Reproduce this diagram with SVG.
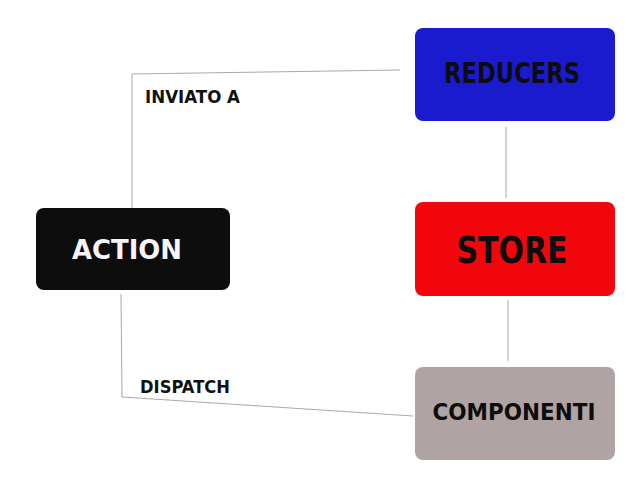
<svg xmlns="http://www.w3.org/2000/svg" width="640" height="480" viewBox="0 0 640 480">
<style>
.node text{font-family:"DejaVu Sans",sans-serif;font-weight:bold;text-anchor:middle;dominant-baseline:central}
.conn{fill:none;stroke:#b0a6a6;stroke-width:1}
.lbl{font-family:"DejaVu Sans",sans-serif;font-weight:bold;font-size:17px;fill:#111}
</style>
<rect width="640" height="480" fill="#fff"/>
<g id="connectors">
<polyline class="conn" points="132,208 132,74 400,70"/>
<line class="conn" x1="506" y1="127" x2="506" y2="198"/>
<line class="conn" x1="508" y1="300" x2="508" y2="361"/>
<polyline class="conn" points="121,294 122,397 413,416"/>
<text class="lbl" x="145" y="103" textLength="95" lengthAdjust="spacingAndGlyphs">INVIATO A</text>
<text class="lbl" x="140" y="393" textLength="90" lengthAdjust="spacingAndGlyphs">DISPATCH</text>
</g>
<g id="action" class="node">
<rect x="36" y="208" width="194" height="82" rx="8" fill="#0d0d0d"/>
<text x="127" y="249" fill="#f6f4f8" font-size="27" textLength="110" lengthAdjust="spacingAndGlyphs">ACTION</text>
</g>
<g id="reducers" class="node">
<rect x="415" y="28" width="200" height="93" rx="8" fill="#1a1acf"/>
<text x="512" y="73" fill="#0d0d0d" font-size="28" textLength="136" lengthAdjust="spacingAndGlyphs">REDUCERS</text>
</g>
<g id="store" class="node">
<rect x="415" y="202" width="200" height="94" rx="8" fill="#f2060b"/>
<text x="512" y="250" fill="#0d0d0d" font-size="38" textLength="111" lengthAdjust="spacingAndGlyphs">STORE</text>
</g>
<g id="componenti" class="node">
<rect x="415" y="367" width="200" height="93" rx="8" fill="#afa3a3"/>
<text x="514" y="412" fill="#0d0d0d" font-size="23" textLength="163" lengthAdjust="spacingAndGlyphs">COMPONENTI</text>
</g>
</svg>
